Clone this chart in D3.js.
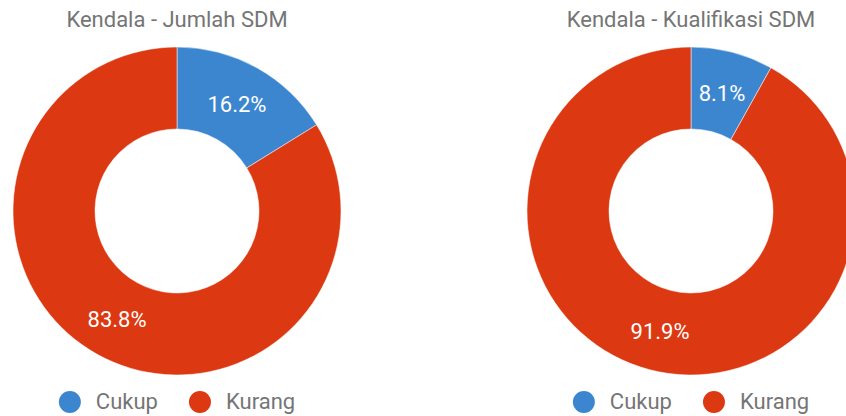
<!DOCTYPE html>
<html>
<head>
<meta charset="utf-8">
<script src="https://cdn.jsdelivr.net/npm/d3@7"></script>
<style>
  body { margin: 0; background: #fff; }
  svg { display: block; font-family: Roboto, "Noto Sans", sans-serif; }
</style>
</head>
<body>
<div id="chart"></div>
<script>
// data
const categories = ["Cukup", "Kurang"];
const colors = ["#3c86d0", "#dc3912"];
const titles = ["Kendala - Jumlah SDM", "Kendala - Kualifikasi SDM"];
const jumlahValues = [16.2, 83.8];
const kualifikasiValues = [8.1, 91.9];

const width = 846, height = 416;
const svg = d3.select("#chart").append("svg")
    .attr("width", width)
    .attr("height", height);

const color = d3.scaleOrdinal().domain(categories).range(colors);
const pie = d3.pie().sort(null).value(d => d.value);

const outerR = 164, innerR = 82;
const arc = d3.arc().innerRadius(innerR).outerRadius(outerR);
const labelArc = d3.arc().innerRadius((innerR + outerR) / 2).outerRadius((innerR + outerR) / 2);

function donut(cx, title, values) {
    const data = categories.map((c, i) => ({ name: c, value: values[i] }));
    const g = svg.append("g");

    g.append("text")
        .attr("x", cx)
        .attr("y", 27)
        .attr("text-anchor", "middle")
        .attr("fill", "#757575")
        .style("font-size", "22px")
        .text(title);

    const pg = g.append("g").attr("transform", `translate(${cx},211)`);
    const arcs = pie(data);
    pg.selectAll("path")
        .data(arcs)
        .join("path")
        .attr("d", arc)
        .attr("fill", d => color(d.data.name))
        .attr("stroke", "#fff")
        .attr("stroke-width", 0.5);

    pg.selectAll("text")
        .data(arcs)
        .join("text")
        .attr("transform", d => `translate(${labelArc.centroid(d)})`)
        .attr("text-anchor", "middle")
        .attr("dy", "0.4em")
        .attr("fill", "#fff")
        .style("font-size", "22px")
        .text(d => d.data.value.toFixed(1) + "%");

    // legend, centred below the donut
    const lg = g.append("g");
    const items = lg.selectAll("g")
        .data(categories)
        .join("g");
    items.append("circle")
        .attr("r", 11)
        .attr("cy", 0)
        .attr("fill", d => color(d));
    items.append("text")
        .attr("x", 26)
        .attr("y", 7)
        .attr("fill", "#757575")
        .style("font-size", "22px")
        .text(d => d);
    let x = 0;
    items.each(function () {
        d3.select(this).attr("transform", `translate(${x},0)`);
        x += this.getBBox().width + 31;
    });
    const w = lg.node().getBBox().width;
    lg.attr("transform", `translate(${cx - w / 2 + 11},402)`);
}

donut(177, titles[0], jumlahValues);
donut(691, titles[1], kualifikasiValues);
</script>
</body>
</html>
